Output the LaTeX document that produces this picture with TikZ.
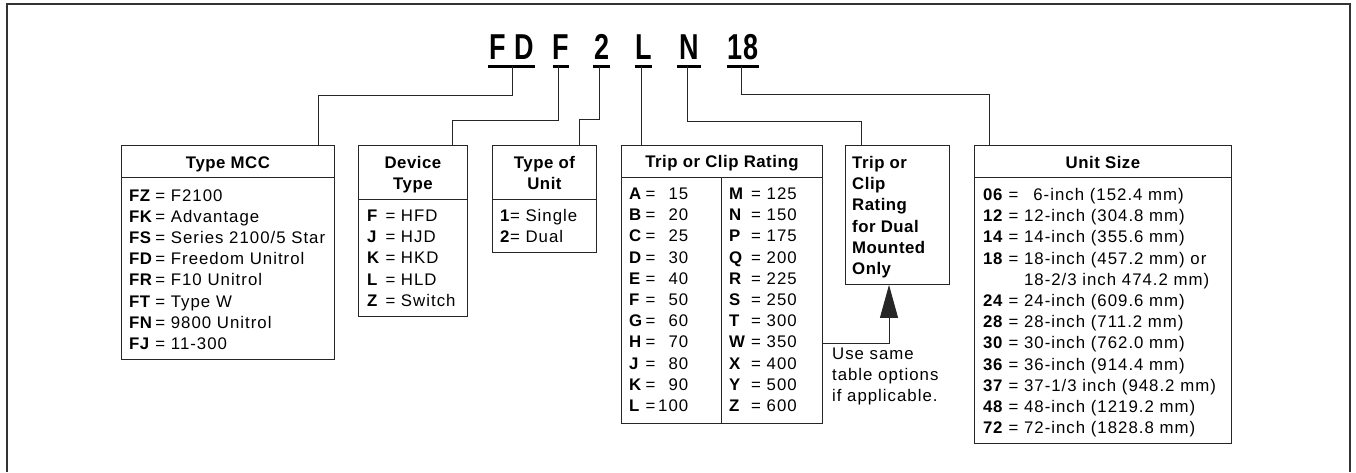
\documentclass[tikz,border=0pt]{standalone}
\usepackage{fontspec}
\setmainfont{Liberation Sans}[UprightFeatures={LetterSpace=6},BoldFeatures={LetterSpace=3}]
\newfontfamily\codefont{Liberation Sans}
\usetikzlibrary{arrows.meta}
\usetikzlibrary{positioning}

\newcommand\bodyfont{\fontsize{16.8}{21.2}\selectfont}
\newcommand\codeletters[1]{\scalebox{0.75}[1]{\codefont\bfseries\fontsize{36}{36}\selectfont #1}}

\tikzset{
  panel/.style={draw=black!85, line width=0.9pt, inner sep=0pt, anchor=north west},
  lead/.style={draw=black!85, line width=0.9pt},
  cell/.style={inner sep=0pt, anchor=base west, font=\bodyfont},
  codetag/.style={inner xsep=0pt, inner ysep=7pt, text depth=0pt, anchor=base},
}

\begin{document}
\begin{tikzpicture}[x=1pt,y=1pt]
\useasboundingbox (0,0) rectangle (1356,-472);
% frame, open at the bottom
\draw[black!80, line width=1.6pt] (7,-472) -- (7,-4) -- (1350,-4) -- (1350,-472);

% catalogue number
\node[codetag, minimum width=47pt] (codeFD) at (511.5,-59) {\codeletters{F\,\,D}};
\node[codetag, minimum width=16pt] (codeF)  at (561,-59)   {\codeletters{F}};
\node[codetag, minimum width=17pt] (code2)  at (601.5,-59) {\codeletters{2}};
\node[codetag, minimum width=17pt] (codeL)  at (643.5,-59) {\codeletters{L}};
\node[codetag, minimum width=24pt] (codeN)  at (689,-59)   {\codeletters{N}};
\node[codetag, minimum width=32pt] (code18) at (743,-59)   {\codeletters{18}};
\foreach \c in {FD,F,2,L,N,18}
  \draw[line width=2.8pt] (code\c.south west) -- (code\c.south east);

% boxes
\node[panel, minimum width=213pt, minimum height=214pt] (mcc)       at (121,-145) {};
\node[panel, minimum width=109pt, minimum height=171pt] (devtype)   at (358,-145) {};
\node[panel, minimum width=104pt, minimum height=107pt] (unittype)  at (492,-145) {};
\node[panel, minimum width=201pt, minimum height=278pt] (rating)    at (621,-145) {};
\node[panel, minimum width=104pt, minimum height=139pt] (dual)      at (845,-145) {};
\node[panel, minimum width=257pt, minimum height=298pt] (unitsize)  at (974,-145) {};

\draw[lead] ([yshift=-32pt]mcc.north west) -- ([yshift=-32pt]mcc.north east);
\draw[lead] ([yshift=-54pt]devtype.north west) -- ([yshift=-54pt]devtype.north east);
\draw[lead] ([yshift=-54pt]unittype.north west) -- ([yshift=-54pt]unittype.north east);
\draw[lead] ([yshift=-32pt]rating.north west) -- ([yshift=-32pt]rating.north east);
\draw[lead] ([shift={(100pt,-32pt)}]rating.north west) -- ([xshift=100pt]rating.south west);
\draw[lead] ([yshift=-32pt]unitsize.north west) -- ([yshift=-32pt]unitsize.north east);

% leads from the code to the boxes
\draw[lead] ([xshift=1pt]codeFD.south) -- ++(0,-29) -| ([xshift=-16pt]mcc.north east);
\draw[lead] ([xshift=-3pt]codeF.south) -- ++(0,-54) -| ([xshift=-15pt]devtype.north east);
\draw[lead] ([xshift=-2.5pt]code2.south) -- ++(0,-53) -| ([xshift=-17pt]unittype.north east);
\draw[lead] ([xshift=-2.5pt]codeL.south) -- ([xshift=20pt]rating.north west);
\draw[lead] ([xshift=-2pt]codeN.south) -- ++(0,-55) -| ([xshift=16pt]dual.north west);
\draw[lead] ([xshift=-2pt]code18.south) -- ++(0,-28) -| ([xshift=15pt]unitsize.north west);
\draw[lead, -{Triangle[length=33pt,width=18pt]}] ([yshift=80pt]rating.south east) -| ([xshift=44pt]dual.south west);

% headings
\node[cell, anchor=base] (mccHead) at ([yshift=-23.5pt]mcc.north) {\bfseries Type MCC};
\node[cell, anchor=base] (devHead) at ([yshift=-23pt]devtype.north)
  {\bfseries\begin{tabular}[t]{@{}c@{}}Device\\Type\end{tabular}};
\node[cell, anchor=base] (unitHead) at ([yshift=-23pt]unittype.north)
  {\bfseries\begin{tabular}[t]{@{}c@{}}Type of\\Unit\end{tabular}};
\node[cell, anchor=base] (ratingHead) at ([yshift=-22.5pt]rating.north) {\bfseries Trip or Clip Rating};
\node[cell] (dualHead) at ([shift={(7pt,-23.5pt)}]dual.north west)
  {\bfseries\begin{tabular}[t]{@{}l@{}}Trip or\\Clip\\Rating\\for Dual\\Mounted\\Only\end{tabular}};
\node[cell, anchor=base] (sizeHead) at ([yshift=-23.5pt]unitsize.north) {\bfseries Unit Size};

% entries
\node[cell] (mccList) at ([shift={(8pt,-56pt)}]mcc.north west) {\begin{tabular}[t]{@{}l@{\,}l@{\ }l@{}}
  \textbf{FZ} & = & F2100\\
  \textbf{FK} & = & Advantage\\
  \textbf{FS} & = & Series 2100/5 Star\\
  \textbf{FD} & = & Freedom Unitrol\\
  \textbf{FR} & = & F10 Unitrol\\
  \textbf{FT} & = & Type W\\
  \textbf{FN} & = & 9800 Unitrol\\
  \textbf{FJ} & = & 11-300
\end{tabular}};
\node[cell] (devList) at ([shift={(9pt,-76.5pt)}]devtype.north west) {\begin{tabular}[t]{@{}l@{\ }l@{\ }l@{}}
  \textbf{F} & = & HFD\\
  \textbf{J} & = & HJD\\
  \textbf{K} & = & HKD\\
  \textbf{L} & = & HLD\\
  \textbf{Z} & = & Switch
\end{tabular}};
\node[cell] (unitList) at ([shift={(8pt,-76.5pt)}]unittype.north west) {\begin{tabular}[t]{@{}l@{}l@{\ }l@{}}
  \textbf{1} & = & Single\\
  \textbf{2} & = & Dual
\end{tabular}};
\node[cell] (ratingLow) at ([shift={(8pt,-54.5pt)}]rating.north west) {\begin{tabular}[t]{@{}l@{\,}c@{\,}r@{}}
  \textbf{A} & = & 15\\
  \textbf{B} & = & 20\\
  \textbf{C} & = & 25\\
  \textbf{D} & = & 30\\
  \textbf{E} & = & 40\\
  \textbf{F} & = & 50\\
  \textbf{G} & = & 60\\
  \textbf{H} & = & 70\\
  \textbf{J} & = & 80\\
  \textbf{K} & = & 90\\
  \textbf{L} & = & 100
\end{tabular}};
\node[cell] (ratingHigh) at ([shift={(108pt,-54.5pt)}]rating.north west) {\begin{tabular}[t]{@{}l@{\ }c@{\ }r@{}}
  \textbf{M} & = & 125\\
  \textbf{N} & = & 150\\
  \textbf{P} & = & 175\\
  \textbf{Q} & = & 200\\
  \textbf{R} & = & 225\\
  \textbf{S} & = & 250\\
  \textbf{T} & = & 300\\
  \textbf{W} & = & 350\\
  \textbf{X} & = & 400\\
  \textbf{Y} & = & 500\\
  \textbf{Z} & = & 600
\end{tabular}};
\node[cell] (sizeList) at ([shift={(9pt,-55.5pt)}]unitsize.north west) {\begin{tabular}[t]{@{}l@{\ }l@{\ }l@{}}
  \textbf{06} & = & \phantom{1}6-inch (152.4 mm)\\
  \textbf{12} & = & 12-inch (304.8 mm)\\
  \textbf{14} & = & 14-inch (355.6 mm)\\
  \textbf{18} & = & 18-inch (457.2 mm) or\\
              &   & 18-2/3 inch 474.2 mm)\\
  \textbf{24} & = & 24-inch (609.6 mm)\\
  \textbf{28} & = & 28-inch (711.2 mm)\\
  \textbf{30} & = & 30-inch (762.0 mm)\\
  \textbf{36} & = & 36-inch (914.4 mm)\\
  \textbf{37} & = & 37-1/3 inch (948.2 mm)\\
  \textbf{48} & = & 48-inch (1219.2 mm)\\
  \textbf{72} & = & 72-inch (1828.8 mm)
\end{tabular}};

% note under the arrow
\node[cell] (note) at ([shift={(9pt,64.5pt)}]rating.south east)
  {\begin{tabular}[t]{@{}l@{}}Use same\\table options\\if applicable.\end{tabular}};
\end{tikzpicture}
\end{document}
